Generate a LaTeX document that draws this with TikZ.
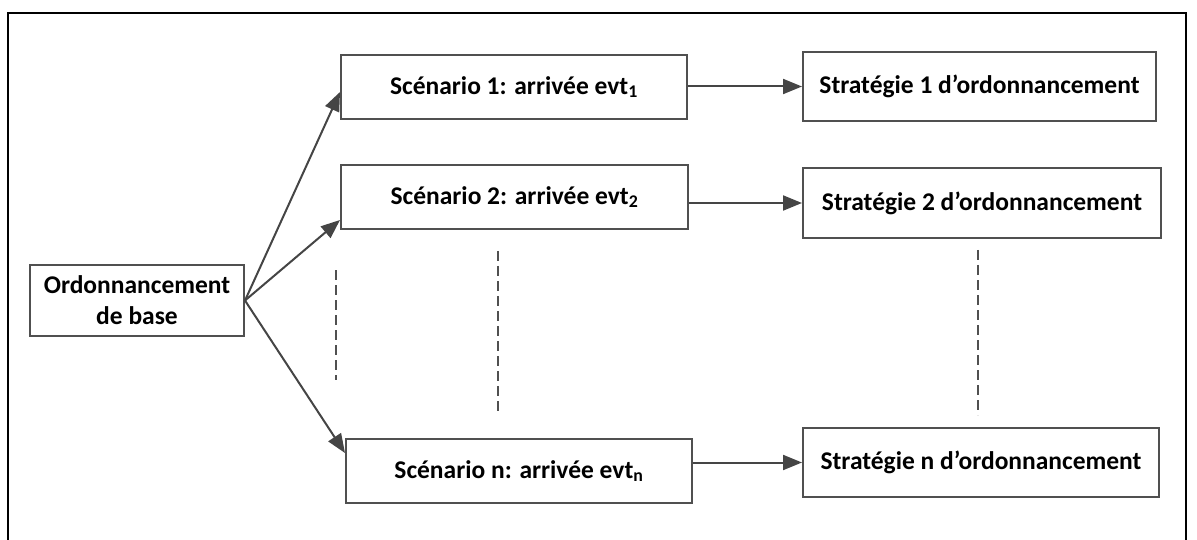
\documentclass[tikz,border=0pt]{standalone}
\usepackage{fontspec}
\setmainfont{Carlito}
\usetikzlibrary{arrows.meta,calc}
\definecolor{linegray}{HTML}{505050}
\definecolor{arrowgray}{HTML}{454545}
\begin{document}
\begin{tikzpicture}[x=1pt,y=-1pt,
  box/.style={draw=linegray, line width=2pt, inner sep=0pt, align=center,
    font=\fontsize{25.5}{31}\selectfont\bfseries},
  conn/.style={draw=arrowgray, line width=2pt,
    -{Triangle[length=19pt,width=15pt]}, arrowgray},
  vdash/.style={draw=linegray, line width=1.6pt, dash pattern=on 10pt off 5pt}
]
\useasboundingbox (0,0) rectangle (1197,540);
% outer frame
\draw[black, line width=2pt] (8,541) -- (8,13) -- (1186,13) -- (1186,541);

% nodes
\node[box, minimum width=214pt, minimum height=71pt] (base) at (137,300.5)
  {Ordonnancement\\de base};
\node[box, minimum width=346pt, minimum height=64pt] (s1) at (514,87)
  {Scénario 1: arrivée evt\textsubscript{1}};
\node[box, minimum width=347pt, minimum height=64pt] (s2) at (514.5,197)
  {Scénario 2: arrivée evt\textsubscript{2}};
\node[box, minimum width=346pt, minimum height=64pt] (sn) at (519,471)
  {Scénario n: arrivée evt\textsubscript{n}};
\node[box, minimum width=353pt, minimum height=69pt] (t1) at (979.5,86.5)
  {Stratégie 1 d’ordonnancement};
\node[box, minimum width=358pt, minimum height=70pt] (t2) at (982,203)
  {Stratégie 2 d’ordonnancement};
\node[box, minimum width=356pt, minimum height=69pt] (tn) at (981,462.5)
  {Stratégie n d’ordonnancement};

% connectors from the base schedule
\draw[conn] (base.east) -- ($(s1.west)+(0,5)$);
\draw[conn] (base.east) -- ($(s2.west)+(0,23)$);
\draw[conn] (base.east) -- ($(sn.west)+(0,-18)$);

% scenario -> strategy
\draw[conn] (s1.east |- t1.west) -- (t1.west);
\draw[conn] (s2.east |- t2.west) -- (t2.west);
\draw[conn] (sn.east |- tn.west) -- (tn.west);

% vertical dashed ellipsis lines
\coordinate (d1a) at (336,270); \coordinate (d1b) at (336,380);
\coordinate (d2a) at (498,251); \coordinate (d2b) at (498,415);
\coordinate (d3a) at (978,250); \coordinate (d3b) at (978,415);
\draw[vdash] (d1a) -- (d1b);
\draw[vdash] (d2a) -- (d2b);
\draw[vdash] (d3a) -- (d3b);
\end{tikzpicture}
\end{document}
